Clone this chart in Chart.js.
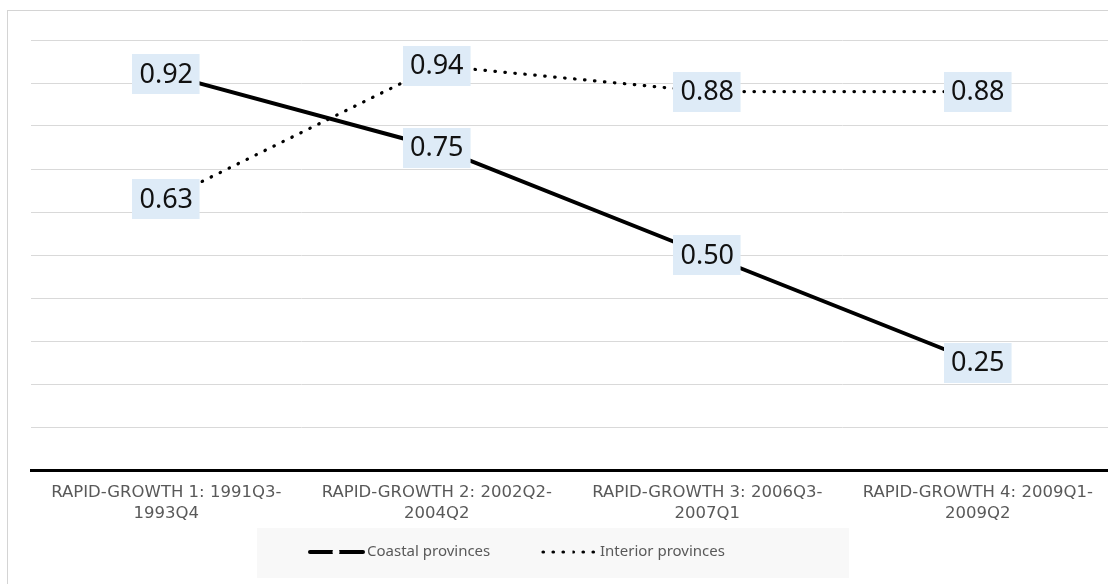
<!DOCTYPE html>
<html>
<head>
<meta charset="utf-8">
<script src="https://cdn.jsdelivr.net/npm/chart.js@4.4.0/dist/chart.umd.min.js"></script>
<style>
  html, body { margin: 0; padding: 0; background: #fff; overflow: hidden; }
  canvas { position: absolute; left: 0; top: 0; }
</style>
</head>
<body>
<canvas id="chart" width="1116" height="584"></canvas>
<script>
// data
const periods = [
  ["RAPID-GROWTH 1: 1991Q3-", "1993Q4"],
  ["RAPID-GROWTH 2: 2002Q2-", "2004Q2"],
  ["RAPID-GROWTH 3: 2006Q3-", "2007Q1"],
  ["RAPID-GROWTH 4: 2009Q1-", "2009Q2"]
];
const coastal = [0.92, 0.75, 0.50, 0.25];
const interior = [0.63, 0.94, 0.88, 0.88];
const seriesNames = ["Coastal provinces", "Interior provinces"];

// outer frame of the chart (cut off at right/bottom like the screenshot)
const frame = {
  id: 'frame',
  beforeDraw(chart) {
    const ctx = chart.ctx;
    ctx.save();
    ctx.strokeStyle = '#d4d4d4';
    ctx.lineWidth = 1;
    ctx.strokeRect(7.5, 10.5, 1300, 700);
    ctx.restore();
  }
};

// value labels in light blue boxes, centred on the points
const valueBoxes = {
  id: 'valueBoxes',
  afterDatasetsDraw(chart) {
    const ctx = chart.ctx;
    ctx.save();
    ctx.font = '27px "Noto Sans"';
    ctx.textAlign = 'center';
    ctx.textBaseline = 'middle';
    chart.data.datasets.forEach((ds, i) => {
      chart.getDatasetMeta(i).data.forEach((pt, j) => {
        const txt = ds.data[j].toFixed(2);
        const w = ctx.measureText(txt).width + 14;
        const h = 40;
        ctx.fillStyle = '#deebf7';
        ctx.fillRect(Math.round(pt.x - w / 2), Math.round(pt.y - h / 2), w, h);
        ctx.fillStyle = '#111111';
        ctx.fillText(txt, pt.x, pt.y + 1);
      });
    });
    ctx.restore();
  }
};

// legend drawn by hand so the line samples look like the original
const bottomLegend = {
  id: 'bottomLegend',
  afterDraw(chart) {
    const ctx = chart.ctx;
    const y = 552;
    ctx.save();
    ctx.fillStyle = '#f8f8f8';
    ctx.fillRect(257, 528, 592, 50);

    const starts = [310, 543];
    chart.data.datasets.forEach((ds, i) => {
      const x0 = starts[i];
      ctx.strokeStyle = ds.borderColor;
      ctx.lineWidth = ds.borderWidth;
      ctx.lineCap = 'round';
      ctx.setLineDash(ds.borderDash || []);
      ctx.beginPath();
      ctx.moveTo(x0, y);
      ctx.lineTo(x0 + 53, y);
      ctx.stroke();
      ctx.setLineDash([]);
      // marker gap in the middle of the sample
      ctx.fillStyle = '#f8f8f8';
      ctx.beginPath();
      ctx.arc(x0 + 26, y, 3.5, 0, Math.PI * 2);
      ctx.fill();

      ctx.fillStyle = '#595959';
      ctx.font = '15px "Noto Sans"';
      ctx.textAlign = 'left';
      ctx.textBaseline = 'middle';
      ctx.fillText(ds.label, x0 + 57, y);
    });
    ctx.restore();
  }
};

new Chart(document.getElementById('chart'), {
  type: 'line',
  data: {
    labels: periods,
    datasets: [
      {
        label: seriesNames[0],
        data: coastal,
        borderColor: '#000000',
        borderWidth: 4,
        pointRadius: 0,
        tension: 0
      },
      {
        label: seriesNames[1],
        data: interior,
        borderColor: '#000000',
        borderWidth: 3.2,
        borderDash: [0.5, 9.5],
        borderCapStyle: 'round',
        pointRadius: 0,
        tension: 0
      }
    ]
  },
  options: {
    responsive: false,
    animation: false,
    layout: { padding: { left: 31, right: 3, top: 40, bottom: 0 } },
    plugins: {
      legend: { display: false },
      tooltip: { enabled: false }
    },
    scales: {
      x: {
        offset: true,
        grid: { display: false, drawTicks: false },
        border: { display: true, color: '#000000', width: 3 },
        ticks: {
          color: '#595959',
          font: { family: 'DejaVu Sans', size: 16.5, lineHeight: 1.27 },
          padding: 12,
          maxRotation: 0,
          autoSkip: false
        },
        afterFit(scale) { scale.height = 114; }
      },
      y: {
        min: 0,
        max: 1,
        ticks: { display: false, stepSize: 0.1 },
        grid: { color: '#d9d9d9', lineWidth: 1, drawTicks: false },
        border: { display: false },
        afterFit(scale) { scale.width = 0; }
      }
    }
  },
  plugins: [frame, valueBoxes, bottomLegend]
});
</script>
</body>
</html>
